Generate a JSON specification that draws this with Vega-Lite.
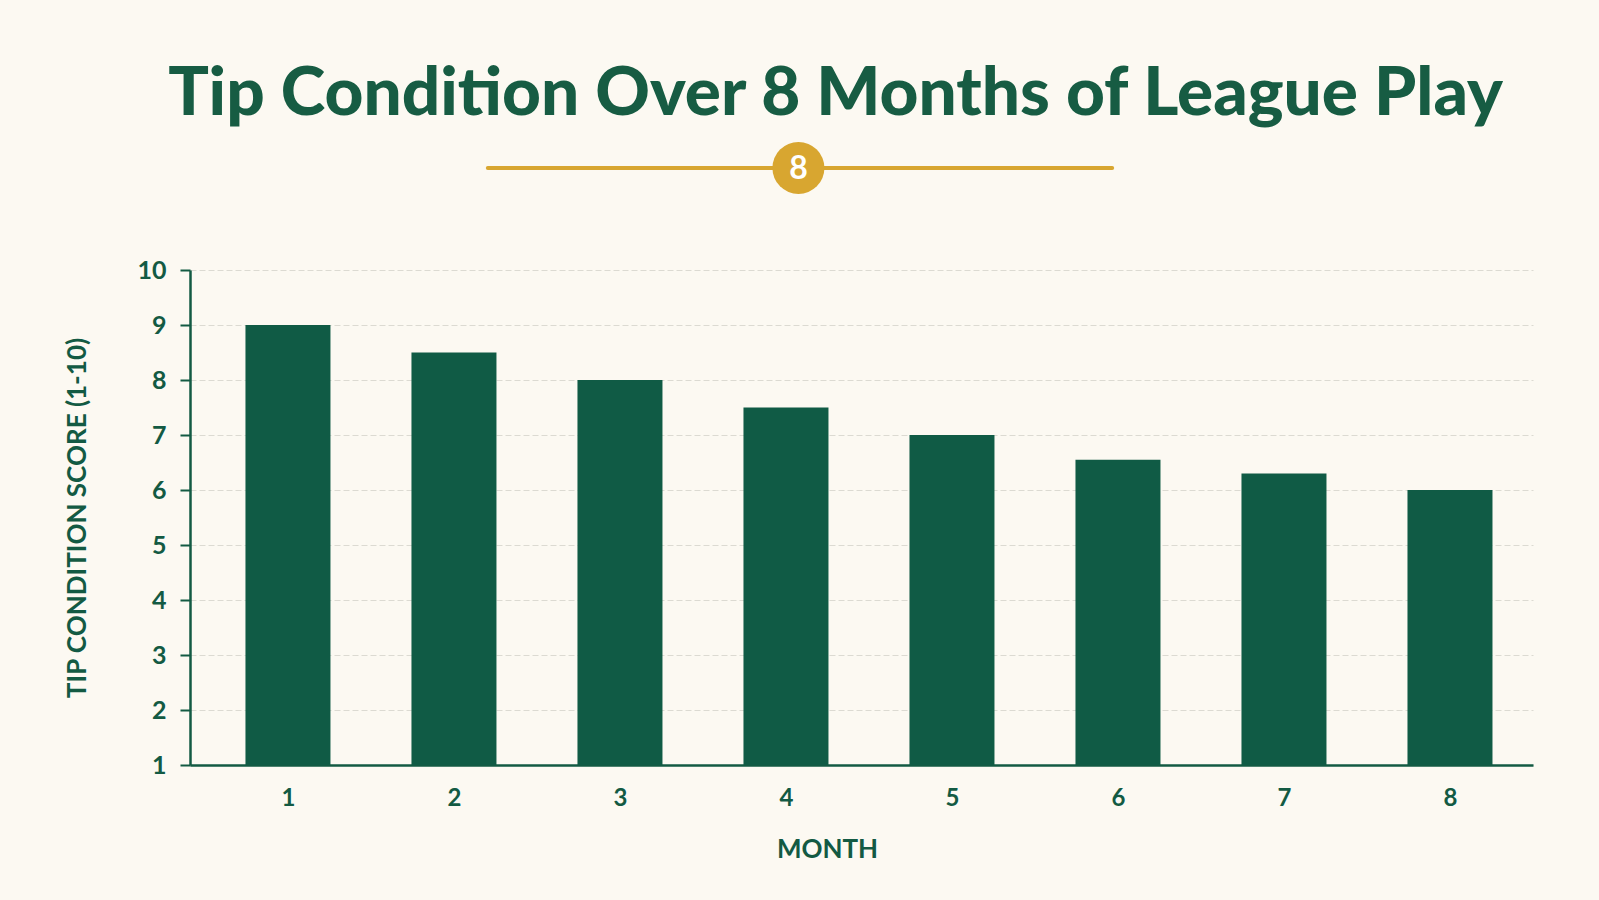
{
  "$schema": "https://vega.github.io/schema/vega-lite/v6.json",
  "autosize": {"type": "none"},
  "width": 1343,
  "height": 495,
  "padding": {"left": 190, "top": 270, "right": 66, "bottom": 135},
  "background": "#FCF9F2",
  "title": {
    "text": "Tip Condition Over 8 Months of League Play",
    "font": "Lato",
    "fontSize": 67.5,
    "fontWeight": 900,
    "color": "#175C43",
    "anchor": "middle",
    "baseline": "alphabetic",
    "dx": -26,
    "offset": -41
  },
  "config": {
    "view": {"stroke": null},
    "font": "Lato"
  },
  "layer": [
    {
      "data": {"values": [
        {"month": 1, "score": 9},
        {"month": 2, "score": 8.5},
        {"month": 3, "score": 8},
        {"month": 4, "score": 7.5},
        {"month": 5, "score": 7},
        {"month": 6, "score": 6.55},
        {"month": 7, "score": 6.3},
        {"month": 8, "score": 6}
      ]},
      "mark": {"type": "bar", "width": 85, "color": "#105B45"},
      "encoding": {
        "x": {
          "field": "month",
          "type": "quantitative",
          "scale": {"domain": [0.44, 8.47], "nice": false, "zero": false},
          "axis": {
            "title": "MONTH",
            "values": [1, 2, 3, 4, 5, 6, 7, 8],
            "format": "d",
            "grid": false,
            "ticks": false,
            "domainColor": "#135A43",
            "domainWidth": 2.5,
            "labelFont": "Lato",
            "labelFontSize": 24,
            "labelFontWeight": "bold",
            "labelColor": "#135A43",
            "labelPadding": 21,
            "titleFont": "Lato",
            "titleFontSize": 26,
            "titleFontWeight": "bold",
            "titleColor": "#135A43",
            "titlePadding": 26,
            "titleX": 637
          }
        },
        "y": {
          "field": "score",
          "type": "quantitative",
          "scale": {"domain": [1, 10], "nice": false, "zero": false},
          "axis": {
            "title": "TIP CONDITION SCORE (1-10)",
            "values": [1, 2, 3, 4, 5, 6, 7, 8, 9, 10],
            "format": "d",
            "grid": true,
            "gridColor": "#DCDAD2",
            "gridDash": [6, 3],
            "gridWidth": 1,
            "domainColor": "#135A43",
            "domainWidth": 2.5,
            "tickColor": "#135A43",
            "tickSize": 10,
            "tickWidth": 2,
            "labelFont": "Lato",
            "labelFontSize": 25,
            "labelFontWeight": "bold",
            "labelColor": "#135A43",
            "labelPadding": 14,
            "titleFont": "Lato",
            "titleFontSize": 26,
            "titleFontWeight": "bold",
            "titleColor": "#135A43",
            "titlePadding": 46
          }
        },
        "y2": {"datum": 1}
      }
    },
    {
      "data": {"values": [{"label": "8"}]},
      "mark": {"type": "rule", "color": "#D8A630", "strokeWidth": 4, "strokeCap": "round"},
      "encoding": {
        "x": {"datum": 2.204},
        "x2": {"datum": 5.965},
        "y": {"datum": 11.855}
      }
    },
    {
      "data": {"values": [{"label": "8"}]},
      "mark": {"type": "point", "filled": true, "color": "#D8A630", "opacity": 1, "size": 2704, "shape": "circle"},
      "encoding": {
        "x": {"datum": 4.075},
        "y": {"datum": 11.855}
      }
    },
    {
      "data": {"values": [{"label": "8"}]},
      "mark": {"type": "text", "color": "#FFFFFF", "font": "Lato", "fontSize": 32, "fontWeight": "bold", "baseline": "middle", "align": "center", "dy": 1},
      "encoding": {
        "x": {"datum": 4.075},
        "y": {"datum": 11.855},
        "text": {"field": "label"}
      }
    }
  ]
}
